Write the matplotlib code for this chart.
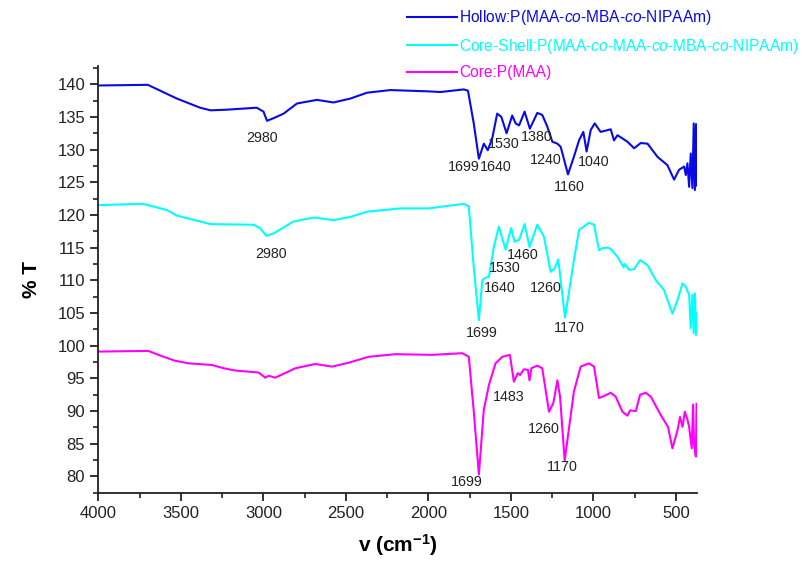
import matplotlib
matplotlib.use("Agg")
import matplotlib.pyplot as plt
from matplotlib.ticker import MultipleLocator

plt.rcParams['font.family'] = ['Liberation Sans', 'DejaVu Sans']
plt.rcParams['mathtext.fontset'] = 'custom'
plt.rcParams['mathtext.rm'] = 'Liberation Sans'
plt.rcParams['mathtext.it'] = 'Liberation Sans:italic'
plt.rcParams['mathtext.bf'] = 'Liberation Sans:bold'

# ---------------- data ----------------
hollow_wn = [4000, 3700, 3524, 3383, 3320, 3221, 3040, 2999, 2978, 2938, 2877, 2796, 2675, 2575,
             2473, 2371, 2230, 2000, 1927,
             1785, 1760, 1725, 1694, 1664, 1640, 1613, 1583, 1558, 1526, 1492, 1471, 1450,
             1417, 1385, 1340, 1310, 1279, 1249, 1218, 1198, 1154, 1118, 1087, 1061, 1041,
             1016, 992, 956, 895, 875, 854, 794, 753, 713, 672, 612, 551, 511, 481,
             450, 440, 430, 420, 410, 400, 392, 385, 378, 375]
hollow_t = [139.8, 139.9, 137.8, 136.4, 136.0, 136.1, 136.4, 135.8, 134.4, 134.8, 135.5, 137.05, 137.6, 137.2,
            137.8, 138.7, 139.1, 138.9, 138.8,
            139.2, 139.0, 134.0, 128.6, 130.9, 129.9, 131.7, 135.5, 135.0, 132.5, 135.2, 134.0, 133.7,
            135.8, 133.2, 135.6, 135.3, 133.5, 131.2, 130.9, 130.4, 126.2, 128.9, 131.4, 132.7, 129.7,
            133.0, 134.0, 132.7, 133.1, 131.4, 132.2, 131.2, 130.2, 131.0, 130.9, 128.9, 127.6, 125.4, 126.9,
            127.4, 126.1, 127.9, 124.3, 129.4, 124.1, 134.0, 123.8, 133.9, 124.5]

shell_wn = [4000, 3729, 3585, 3524, 3322, 3059, 3019, 2982, 2936, 2817, 2695, 2573, 2473, 2371, 2169, 2000,
            1785, 1755, 1725, 1694, 1673, 1653, 1633, 1603, 1573, 1532, 1498, 1478, 1450,
            1417, 1387, 1340, 1300, 1259, 1235, 1213, 1172, 1118, 1087, 1027, 996, 966,
            946, 915, 895, 854, 817, 810, 784, 753, 717, 672, 622, 572, 521, 490,
            460, 440, 420, 410, 400, 392, 385, 378, 375]
shell_t = [121.5, 121.7, 120.75, 119.9, 118.6, 118.5, 117.95, 116.8, 117.2, 119.0, 119.6, 119.2, 119.7, 120.5, 121.0, 121.0,
           121.7, 121.3, 112.0, 103.9, 110.05, 110.4, 110.55, 115.1, 118.2, 114.7, 118.0, 115.9, 116.2,
           118.6, 115.1, 118.5, 116.7, 111.3, 111.8, 113.2, 104.3, 113.1, 117.7, 118.8, 118.5, 114.6,
           114.9, 115.0, 114.8, 113.6, 112.0, 112.5, 111.6, 111.7, 113.1, 112.3, 110.05, 108.5, 104.9, 107.0,
           109.55, 109.0, 107.8, 102.7, 107.8, 101.9, 108.0, 101.65, 105.0]

core_wn = [4000, 3697, 3615, 3535, 3454, 3312, 3241, 3170, 3029, 2988, 2968, 2928, 2806, 2685, 2584, 2483, 2362,
           2200, 1977, 1795, 1755, 1725, 1694, 1664, 1633, 1593, 1552, 1506, 1482, 1458, 1445,
           1421, 1397, 1387, 1376, 1340, 1310, 1269, 1243, 1218, 1202, 1174, 1118, 1077, 1027,
           996, 966, 936, 895, 865, 824, 794, 778, 743, 717, 683, 652, 592, 548, 521, 490,
           475, 460, 446, 430, 420, 404, 396, 390, 379, 375]
core_t = [99.1, 99.2, 98.4, 97.7, 97.3, 97.05, 96.55, 96.2, 95.9, 95.1, 95.4, 95.1, 96.55, 97.2, 96.8, 97.4, 98.3,
          98.7, 98.6, 98.85, 98.3, 90.0, 80.3, 90.2, 94.0, 97.3, 98.3, 98.6, 94.5, 95.8, 95.5,
          96.4, 96.3, 94.7, 96.55, 96.95, 96.55, 89.9, 91.2, 94.7, 92.2, 82.45, 93.0, 96.8, 97.3,
          96.8, 92.0, 92.3, 92.8, 92.2, 89.9, 89.3, 90.1, 90.0, 92.5, 92.8, 92.2, 89.4, 87.6, 84.3, 87.1,
          89.1, 87.6, 89.9, 88.7, 87.6, 84.3, 91.0, 84.8, 83.05, 91.1]

series_labels = [r'Hollow:P(MAA-$\mathit{co}$-MBA-$\mathit{co}$-NIPAAm)',
                 r'Core-Shell:P(MAA-$\mathit{co}$-MAA-$\mathit{co}$-MBA-$\mathit{co}$-NIPAAm)',
                 'Core:P(MAA)']
series_colors = ['#0A0AE6', '#00FFFF', '#FF00FF']

# peak annotations: (text, wavenumber, %T)
peak_labels = [
    ('2980', 3005, 131.7), ('1699', 1785, 127.3), ('1640', 1589, 127.3), ('1530', 1546, 130.9),
    ('1380', 1344, 131.9), ('1240', 1289, 128.4), ('1160', 1148, 124.2), ('1040', 996, 128.1),
    ('2980', 2954, 114.1), ('1460', 1427, 113.9), ('1530', 1536, 111.9), ('1640', 1569, 108.9),
    ('1260', 1289, 108.8), ('1699', 1674, 102.0), ('1170', 1148, 102.7),
    ('1483', 1512, 92.2), ('1260', 1300, 87.2), ('1170', 1188, 81.5), ('1699', 1769, 79.2),
]

# ---------------- figure ----------------
fig = plt.figure(figsize=(8.06, 5.61), dpi=100)
ax = fig.add_axes([0.122, 0.121, 0.743, 0.761])

for wn, t, lab, c in zip([hollow_wn, shell_wn, core_wn], [hollow_t, shell_t, core_t],
                         series_labels, series_colors):
    ax.plot(wn, t, color=c, lw=1.5, label=lab)

for txt, x, y in peak_labels:
    ax.text(x, y, txt, fontsize=10.3, ha='center', va='center', color='#222222')

ax.set_xlim(4000, 371)
ax.set_ylim(77.45, 142.75)
ax.xaxis.set_major_locator(MultipleLocator(500))
ax.xaxis.set_minor_locator(MultipleLocator(250))
ax.yaxis.set_major_locator(MultipleLocator(5))
ax.yaxis.set_minor_locator(MultipleLocator(2.5))
ax.set_yticks([80, 85, 90, 95, 100, 105, 110, 115, 120, 125, 130, 135, 140])

for s in ['top', 'right']:
    ax.spines[s].set_visible(False)
for s in ['left', 'bottom']:
    ax.spines[s].set_linewidth(1.3)
    ax.spines[s].set_color('#222222')

ax.tick_params(axis='both', which='major', direction='out', length=6, width=1.3,
               labelsize=12, colors='#222222')
ax.tick_params(axis='both', which='minor', direction='out', length=3.5, width=1.2, colors='#222222')

ax.set_xlabel(r'v (cm$^{\mathbf{-1}}$)', fontsize=15, fontweight='bold', labelpad=8)
ax.set_ylabel('% T', fontsize=15, fontweight='bold', labelpad=12)

leg = ax.legend(loc='upper left', bbox_to_anchor=(0.4915, 1.005), bbox_transform=fig.transFigure,
                frameon=False, fontsize=11.2, handlelength=3.2, handletextpad=0.15,
                labelspacing=0.62, labelcolor='linecolor', borderpad=0.2)

fig.savefig('out.png', dpi=100)
